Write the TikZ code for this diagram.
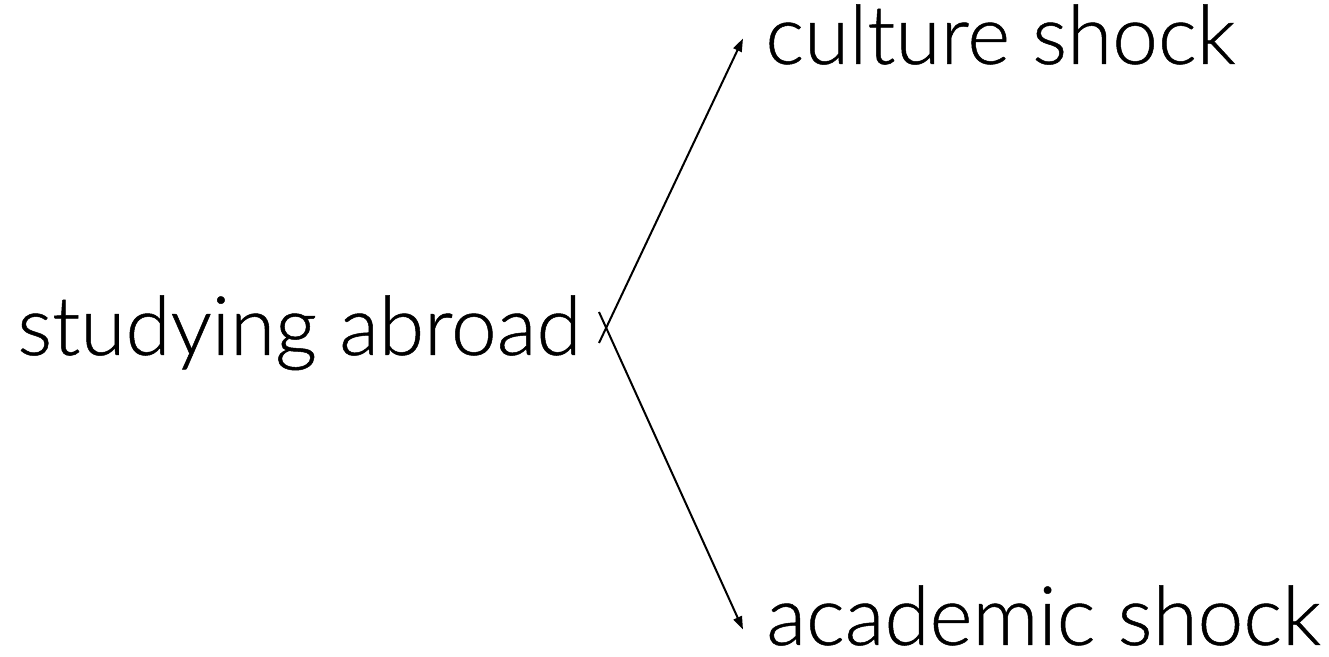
\documentclass[tikz,border=0pt]{standalone}
\usepackage{fontspec}
\setmainfont{Lato Light}[FakeBold=0.6]
\usetikzlibrary{arrows.meta}

\tikzset{
	word/.style 	= {inner sep=0pt, anchor=base west, font=\fontsize{41}{49}\selectfont},
	shockarrow/.style 	= {line width=1pt, -{Triangle[length=6.5pt,width=4.5pt]}}
}

\begin{document}
\begin{tikzpicture}[x=0.5pt,y=-0.5pt]
		%\draw[help lines] (0,0) grid (1329,657);
		\useasboundingbox (0,0) rectangle (1329,657);

		\node[word] (studying) at (17,355) {studying abroad};
		\node[word] (culture) at (765,64) {culture shock};
		\node[word] (academic) at (766,645) {academic shock};

		\coordinate (toCulture) at (599,343);
		\coordinate (toAcademic) at (599,312);

		\draw[shockarrow] (toCulture) -- ([shift={(-22,4)}]culture.west);
		\draw[shockarrow] (toAcademic) -- ([shift={(-23,14)}]academic.west);
		\end{tikzpicture}
\end{document}
